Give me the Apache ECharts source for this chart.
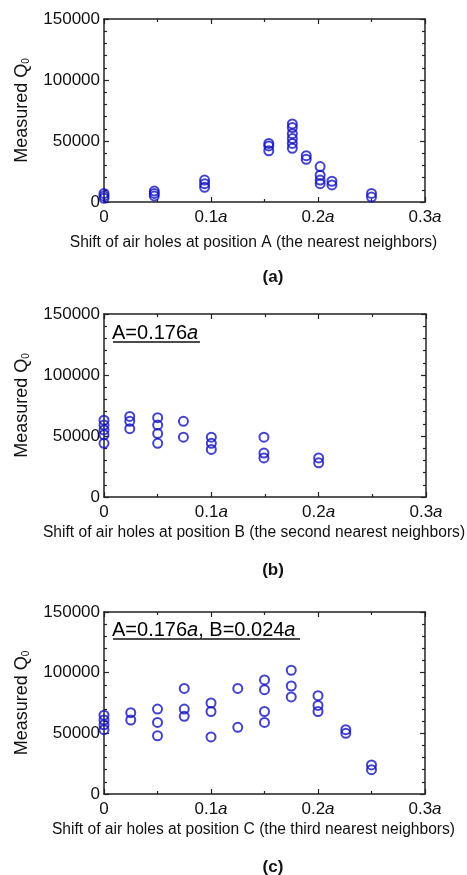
<!DOCTYPE html>
<html>
<head>
<meta charset="utf-8">
<title>Measured Q0 vs air-hole shift</title>
<script src="https://cdn.jsdelivr.net/npm/echarts@6/dist/echarts.min.js"></script>
<style>
  html, body { margin: 0; padding: 0; background: #ffffff; }
  #chart { width: 467px; height: 875px; }
</style>
</head>
<body>
<div id="chart"></div>
<script>
// Panel (a): shift of air holes at position A (units of lattice constant a)
const shiftA = [0, 0, 0, 0.047, 0.047, 0.047, 0.094, 0.094, 0.094,
  0.154, 0.154, 0.154, 0.176, 0.176, 0.176, 0.176, 0.176, 0.176,
  0.189, 0.189, 0.202, 0.202, 0.202, 0.202, 0.213, 0.213, 0.25, 0.25];
const qA = [3000, 5000, 7000, 5000, 7000, 9000, 12000, 15000, 18000,
  42000, 46000, 48000, 44000, 48000, 52000, 56000, 61000, 64000,
  35000, 38000, 15000, 18000, 22000, 29000, 14000, 17000, 4000, 7000];

// Panel (b): A fixed at 0.176a, shift at position B
const shiftB = [0, 0, 0, 0, 0, 0.024, 0.024, 0.024, 0.05, 0.05, 0.05, 0.05,
  0.074, 0.074, 0.1, 0.1, 0.1, 0.149, 0.149, 0.149, 0.2, 0.2];
const qB = [63000, 59000, 55000, 51000, 44000, 66000, 62000, 56000, 65000, 59000, 52000, 44000,
  62000, 49000, 49000, 44000, 39000, 49000, 36000, 32000, 32000, 28000];

// Panel (c): A = 0.176a, B = 0.024a, shift at position C
const shiftC = [0, 0, 0, 0, 0.025, 0.025, 0.05, 0.05, 0.05, 0.075, 0.075, 0.075,
  0.1, 0.1, 0.1, 0.125, 0.125, 0.15, 0.15, 0.15, 0.15, 0.175, 0.175, 0.175,
  0.2, 0.2, 0.2, 0.226, 0.226, 0.25, 0.25];
const qC = [65000, 61000, 57000, 53000, 67000, 61000, 70000, 59000, 48000, 87000, 70000, 64000,
  75000, 68000, 47000, 87000, 55000, 94000, 86000, 68000, 59000, 102000, 89000, 80000,
  81000, 73000, 68000, 53000, 50000, 24000, 20000];

// Axis ticks
const xTicks = [0, 0.1, 0.2, 0.3];
const yTicks = [0, 50000, 100000, 150000];

const captions = [
  'Shift of air holes at position A (the nearest neighbors)',
  'Shift of air holes at position B (the second nearest neighbors)',
  'Shift of air holes at position C (the third nearest neighbors)'
];
const panelTags = ['(a)', '(b)', '(c)'];

const FONT = '"Liberation Sans", Arial, sans-serif';
const AXIS_COLOR = '#222';
const MARK_COLOR = '#1414c0';

const grids = [
  { left: 104, top: 19, width: 321, height: 183, outerBoundsMode: 'none' },
  { left: 104, top: 314, width: 322, height: 183, outerBoundsMode: 'none' },
  { left: 104, top: 612, width: 321, height: 182, outerBoundsMode: 'none' }
];
const captionGaps = [33, 28, 28];

function pairs(xs, ys) { return xs.map((x, i) => [x, ys[i]]); }

const tickLabelRich = {
  n: { fontFamily: FONT, fontSize: 17, color: '#111' },
  i: { fontFamily: FONT, fontSize: 17, fontStyle: 'italic', color: '#111' }
};

function xFmt(v) {
  if (Math.abs(v) < 1e-9) return '{n|0}';
  return '{n|' + v.toFixed(1) + '}{i|a}';
}

const xAxes = [];
const yAxes = [];
grids.forEach((g, gi) => {
  const common = {
    gridIndex: gi, type: 'value', min: xTicks[0], max: xTicks[xTicks.length - 1],
    interval: xTicks[1] - xTicks[0], splitLine: { show: false },
    axisLine: { show: true, onZero: false, lineStyle: { color: AXIS_COLOR, width: 1.5 } },
    axisTick: { show: true, inside: true, length: 5, lineStyle: { color: AXIS_COLOR, width: 1.2 } },
    minorTick: { show: true, splitNumber: 2, length: 3, lineStyle: { color: AXIS_COLOR, width: 1.2 } }
  };
  xAxes.push(Object.assign({}, common, {
    position: 'bottom',
    axisLabel: { show: true, margin: 7, formatter: xFmt, rich: tickLabelRich },
    name: captions[gi], nameLocation: 'middle', nameGap: captionGaps[gi],
    // caption sits slightly left of the plot centre
    nameTextStyle: { fontFamily: FONT, fontSize: 15.6, color: '#111', padding: [0, 22, 0, 0] }
  }));
  xAxes.push(Object.assign({}, common, { position: 'top', axisLabel: { show: false } }));

  const ycommon = {
    gridIndex: gi, type: 'value', min: yTicks[0], max: yTicks[yTicks.length - 1],
    interval: yTicks[1] - yTicks[0], splitLine: { show: false },
    axisLine: { show: true, onZero: false, lineStyle: { color: AXIS_COLOR, width: 1.5 } },
    axisTick: { show: true, inside: true, length: 5, lineStyle: { color: AXIS_COLOR, width: 1.2 } },
    minorTick: { show: true, splitNumber: 5, length: 3, lineStyle: { color: AXIS_COLOR, width: 1.2 } }
  };
  yAxes.push(Object.assign({}, ycommon, {
    position: 'left',
    axisLabel: {
      show: true, margin: 4, fontFamily: FONT, fontSize: 17, color: '#111',
      formatter: v => String(v)
    },
    name: '{m|Measured Q}{s|0}', nameLocation: 'middle', nameRotate: 90, nameGap: 73,
    nameTextStyle: {
      rich: {
        m: { fontFamily: FONT, fontSize: 18, color: '#111' },
        s: { fontFamily: FONT, fontSize: 10, color: '#111', verticalAlign: 'bottom', padding: [7, 0, 0, 0] }
      }
    }
  }));
  yAxes.push(Object.assign({}, ycommon, { position: 'right', axisLabel: { show: false } }));
});

const seriesData = [pairs(shiftA, qA), pairs(shiftB, qB), pairs(shiftC, qC)];
const series = seriesData.map((d, gi) => ({
  type: 'scatter',
  xAxisIndex: 2 * gi,
  yAxisIndex: 2 * gi,
  data: d,
  symbol: 'circle',
  symbolSize: 9,
  itemStyle: { color: 'rgba(0,0,0,0)', borderColor: MARK_COLOR, borderWidth: 2 },
  emphasis: { disabled: true },
  silent: true
}));

const tagY = [272, 565, 862];
const titles = panelTags.map((t, gi) => ({
  text: t, left: 268, top: tagY[gi], textAlign: 'center', textVerticalAlign: 'middle',
  textStyle: { fontFamily: FONT, fontSize: 17, fontWeight: 'bold', color: '#111' }
}));

const noteRich = {
  n: { fontFamily: FONT, fontSize: 20, color: '#111' },
  i: { fontFamily: FONT, fontSize: 20, fontStyle: 'italic', color: '#111' }
};

const graphic = [
  { type: 'text', left: 112, top: 323, style: { text: '{n|A=0.176}{i|a}', rich: noteRich } },
  { type: 'line', shape: { x1: 113, y1: 342, x2: 200, y2: 342 }, style: { stroke: '#111', lineWidth: 1.3 } },
  { type: 'text', left: 112, top: 620, style: { text: '{n|A=0.176}{i|a}{n|, B=0.024}{i|a}', rich: noteRich } },
  { type: 'line', shape: { x1: 113, y1: 639, x2: 300, y2: 639 }, style: { stroke: '#111', lineWidth: 1.3 } }
];

const chart = echarts.init(document.getElementById('chart'), null, { renderer: 'canvas' });
chart.setOption({
  animation: false,
  backgroundColor: '#ffffff',
  title: titles,
  grid: grids,
  xAxis: xAxes,
  yAxis: yAxes,
  series: series,
  graphic: graphic
});
</script>
</body>
</html>
